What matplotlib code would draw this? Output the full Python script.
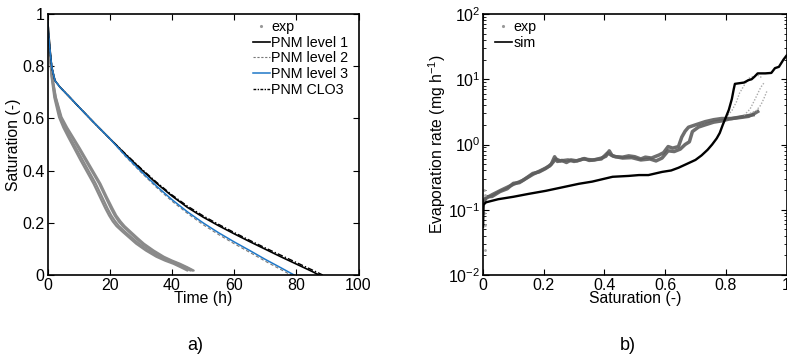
import matplotlib
matplotlib.use("Agg")
import matplotlib.pyplot as plt
from matplotlib.lines import Line2D
from matplotlib.ticker import FixedLocator, FixedFormatter, LogLocator, NullFormatter

plt.rcParams['font.family'] = ['Liberation Sans', 'DejaVu Sans']
plt.rcParams['mathtext.fontset'] = 'custom'
plt.rcParams['mathtext.rm'] = 'Liberation Sans'
plt.rcParams['mathtext.it'] = 'Liberation Sans:italic'

# ---------------- panel a) data: saturation vs time ----------------
exp_s = [0.97, 0.93, 0.84, 0.76, 0.68, 0.605, 0.565, 0.53, 0.485, 0.44, 0.395, 0.35, 0.30,
         0.255, 0.228, 0.205, 0.187, 0.165, 0.142, 0.12, 0.094, 0.07, 0.055, 0.043, 0.03, 0.017]
exp1_t = [0, 0.3, 0.8, 1.3, 2.2, 3.7, 5.1, 6.6, 8.6, 10.6, 12.7, 14.8, 16.8, 18.6, 19.8, 21.0,
          22.2, 24.2, 26.4, 28.5, 31.6, 35.0, 37.8, 40.5, 42.8, 45.0]
exp2_t = [0, 0.3, 0.8, 1.4, 2.4, 4.0, 5.5, 7.1, 9.2, 11.3, 13.4, 15.5, 17.5, 19.3, 20.5, 21.8,
          23.0, 25.0, 27.2, 29.4, 32.5, 36.0, 38.8, 41.4, 43.8, 46.0]
exp3_t = [0, 0.3, 0.9, 1.5, 2.6, 4.3, 6.0, 7.8, 10.0, 12.2, 14.4, 16.6, 18.6, 20.4, 21.6, 22.9,
          24.2, 26.2, 28.3, 30.4, 33.5, 36.8, 39.5, 42.0, 44.4, 46.6]
exp4_t = [0, 0.3, 0.9, 1.5, 2.7, 4.5, 6.3, 8.1, 10.4, 12.6, 14.8, 17.0, 19.0, 20.9, 22.1, 23.5,
          24.8, 26.8, 28.9, 31.0, 34.1, 37.4, 40.1, 42.6, 44.9, 47.0]

early_t = [0, 0.2, 0.5, 0.9, 1.4, 2.4, 4.0, 7.0, 10.0, 15.0, 20.0]
early_s = [0.97, 0.94, 0.9, 0.85, 0.795, 0.745, 0.72, 0.683, 0.645, 0.583, 0.523]

l1_t = early_t + [25, 30, 35, 40, 45, 50, 55, 60, 65, 70, 75, 80, 85, 87.3]
l1_s = early_s + [0.463, 0.406, 0.352, 0.303, 0.259, 0.222, 0.189, 0.158, 0.128, 0.099, 0.07, 0.042, 0.014, 0.0]
l2_t = early_t + [25, 30, 35, 40, 45, 50, 55, 60, 65, 70, 75, 78.3]
l2_s = early_s + [0.455, 0.394, 0.336, 0.283, 0.236, 0.193, 0.155, 0.12, 0.087, 0.053, 0.021, 0.0]
l3_t = early_t + [25, 30, 35, 40, 45, 50, 55, 60, 65, 70, 75, 79.3]
l3_s = early_s + [0.458, 0.398, 0.341, 0.289, 0.242, 0.2, 0.162, 0.127, 0.094, 0.06, 0.028, 0.0]
clo3_t = early_t + [25, 30, 35, 40, 45, 50, 55, 60, 65, 70, 75, 80, 85, 88.5]
clo3_s = early_s + [0.465, 0.409, 0.356, 0.307, 0.264, 0.227, 0.194, 0.163, 0.133, 0.104, 0.076, 0.048, 0.02, 0.0]

# ---------------- panel b) data: evaporation rate vs saturation ----------------
sim_s = [0.000, 0.002, 0.01, 0.05, 0.10, 0.15, 0.207, 0.26, 0.316, 0.36, 0.427, 0.48, 0.514, 0.545,
         0.59, 0.62, 0.644, 0.67, 0.70, 0.72, 0.74, 0.755, 0.77, 0.78, 0.79, 0.80, 0.81, 0.82, 0.826,
         0.83, 0.845, 0.86, 0.875, 0.885, 0.895, 0.905, 0.93, 0.95, 0.962, 0.975, 0.99, 1.0]
sim_r = [0.055, 0.12, 0.13, 0.145, 0.158, 0.175, 0.195, 0.22, 0.25, 0.27, 0.32, 0.33, 0.34, 0.34,
         0.38, 0.40, 0.44, 0.5, 0.58, 0.68, 0.83, 1.0, 1.24, 1.5, 2.0, 2.6, 3.4, 5.0, 7.0,
         8.5, 8.7, 8.9, 9.7, 10.0, 11.0, 12.3, 12.3, 12.5, 14.8, 15.5, 20.0, 23.0]

expA_s = [0.0, 0.005, 0.012, 0.03, 0.056, 0.08, 0.1, 0.12, 0.14, 0.164, 0.185, 0.207, 0.225, 0.236,
          0.245, 0.26, 0.275, 0.29, 0.31, 0.334, 0.35, 0.367, 0.39, 0.405, 0.416, 0.425, 0.437, 0.46,
          0.48, 0.5, 0.52, 0.535, 0.555, 0.58, 0.595, 0.61, 0.625, 0.644, 0.655, 0.666, 0.677, 0.7,
          0.732, 0.76, 0.786, 0.82, 0.85, 0.875, 0.895, 0.905]
expA_r = [0.12, 0.14, 0.158, 0.16, 0.19, 0.21, 0.254, 0.26, 0.30, 0.36, 0.38, 0.43, 0.50, 0.65,
          0.55, 0.57, 0.53, 0.58, 0.56, 0.61, 0.57, 0.58, 0.62, 0.66, 0.8, 0.68, 0.65, 0.64,
          0.67, 0.65, 0.6, 0.64, 0.62, 0.69, 0.75, 0.93, 0.88, 0.93, 1.3, 1.6, 1.84, 2.0,
          2.24, 2.4, 2.5, 2.5, 2.6, 2.7, 3.0, 3.2]
expB_s = [0.0, 0.01, 0.03, 0.06, 0.1, 0.13, 0.165, 0.2, 0.22, 0.24, 0.255, 0.28, 0.3, 0.33, 0.36,
          0.39, 0.41, 0.43, 0.46, 0.49, 0.52, 0.55, 0.57, 0.59, 0.61, 0.63, 0.65, 0.666, 0.68, 0.69,
          0.71, 0.732, 0.76, 0.786, 0.81, 0.84, 0.87, 0.89]
expB_r = [0.13, 0.15, 0.17, 0.2, 0.245, 0.28, 0.35, 0.42, 0.47, 0.6, 0.56, 0.58, 0.55, 0.6, 0.58,
          0.6, 0.74, 0.66, 0.62, 0.63, 0.58, 0.6, 0.56, 0.62, 0.8, 0.78, 0.85, 1.0, 1.1, 1.58,
          1.85, 2.0, 2.2, 2.3, 2.45, 2.6, 2.75, 2.85]
tail1_s = [0.80, 0.82, 0.835, 0.845, 0.86, 0.875, 0.89, 0.905, 0.92]
tail1_r = [2.6, 3.3, 4.5, 6.1, 8.0, 10.3, 11.0, 11.5, 10.5]
tail2_s = [0.86, 0.88, 0.895, 0.905, 0.915, 0.925]
tail2_r = [2.8, 3.5, 4.8, 6.0, 7.5, 8.7]
tail3_s = [0.88, 0.9, 0.915, 0.925, 0.935]
tail3_r = [3.0, 3.3, 4.0, 5.0, 6.5]
dots_s = [0.003, 0.005, 0.006, 0.004, 0.008]
dots_r = [0.2, 0.058, 0.024, 0.09, 0.17]

W, H = 787, 359
fig = plt.figure(figsize=(W / 100, H / 100), dpi=100)

def px_axes(l, r, t, b):
    return fig.add_axes([l / W, (H - b) / H, (r - l) / W, (b - t) / H])

tick_fs = 11.5
lab_fs = 11.3
leg_fs = 10.3

# ---------------- panel a ----------------
ax1 = px_axes(47.5, 358.5, 14, 275)
grey = '#8a8a8a'
for t in (exp1_t, exp2_t, exp3_t, exp4_t):
    ax1.plot(t, exp_s, color=grey, lw=1.6, solid_capstyle='round', solid_joinstyle='round')
ax1.plot(clo3_t, clo3_s, color='black', lw=1.0, ls=(0, (4, 1.5, 1, 1.5)))
ax1.plot(l1_t, l1_s, color='black', lw=1.2)
ax1.plot(l2_t, l2_s, color='#777777', lw=0.8, ls=(0, (3, 2)))
ax1.plot(l3_t, l3_s, color='#1f78c8', lw=1.1)

ax1.set_xlim(0, 100)
ax1.set_ylim(0, 1)
ax1.xaxis.set_major_locator(FixedLocator([0, 20, 40, 60, 80, 100]))
ax1.xaxis.set_major_formatter(FixedFormatter(['0', '20', '40', '60', '80', '100']))
ax1.yaxis.set_major_locator(FixedLocator([0, 0.2, 0.4, 0.6, 0.8, 1.0]))
ax1.yaxis.set_major_formatter(FixedFormatter(['0', '0.2', '0.4', '0.6', '0.8', '1']))
ax1.set_xlabel('Time (h)', fontsize=lab_fs, labelpad=-1)
ax1.set_ylabel('Saturation (-)', fontsize=lab_fs, labelpad=1)

handles1 = [
    Line2D([], [], ls='none', marker='.', ms=2.5, color='#999999'),
    Line2D([], [], color='black', lw=1.2),
    Line2D([], [], color='#777777', lw=0.8, ls=(0, (2, 1.5))),
    Line2D([], [], color='#1f78c8', lw=1.1),
    Line2D([], [], color='black', lw=1.0, ls=(0, (2, 1, 1, 1))),
]
labels1 = ['exp', 'PNM level 1', 'PNM level 2', 'PNM level 3', 'PNM CLO3']
ax1.legend(handles1, labels1, loc='upper right', frameon=False, fontsize=leg_fs,
           handlelength=1.2, handletextpad=0.1, labelspacing=0.12,
           borderaxespad=0.2, bbox_to_anchor=(0.995, 1.01))

# ---------------- panel b ----------------
ax2 = px_axes(483, 786.5, 14, 275)
dk = '#5e5e5e'
ax2.plot(expA_s, expA_r, color=dk, lw=2.5, alpha=0.9)
ax2.plot(expB_s, expB_r, color=dk, lw=2.5, alpha=0.9)
for s, r in [(tail1_s, tail1_r), (tail2_s, tail2_r), (tail3_s, tail3_r)]:
    ax2.plot(s, r, color='#aaaaaa', lw=1.0, ls=(0, (1, 1.2)))
ax2.plot(dots_s, dots_r, ls='none', marker='.', ms=2, color='#aaaaaa')
ax2.plot(sim_s, sim_r, color='black', lw=1.7)

ax2.set_yscale('log')
ax2.set_xlim(0, 1)
ax2.set_ylim(1e-2, 1e2)
ax2.xaxis.set_major_locator(FixedLocator([0, 0.2, 0.4, 0.6, 0.8, 1.0]))
ax2.xaxis.set_major_formatter(FixedFormatter(['0', '0.2', '0.4', '0.6', '0.8', '1']))
ax2.yaxis.set_major_locator(FixedLocator([1e-2, 1e-1, 1e0, 1e1, 1e2]))
ax2.yaxis.set_major_formatter(FixedFormatter(['$10^{-2}$', '$10^{-1}$', '$10^{0}$', '$10^{1}$', '$10^{2}$']))
ax2.yaxis.set_minor_locator(LogLocator(base=10, subs=range(2, 10)))
ax2.yaxis.set_minor_formatter(NullFormatter())
ax2.set_xlabel('Saturation (-)', fontsize=lab_fs, labelpad=-1)
ax2.set_ylabel('Evaporation rate (mg h$^{-1}$)', fontsize=lab_fs, labelpad=0)

handles2 = [Line2D([], [], ls='none', marker='.', ms=2.5, color='#999999'),
            Line2D([], [], color='black', lw=1.2)]
ax2.legend(handles2, ['exp', 'sim'], loc='upper left', frameon=False, fontsize=leg_fs,
           handlelength=1.2, handletextpad=0.1, labelspacing=0.12,
           borderaxespad=0.2, bbox_to_anchor=(0.01, 1.01))

for ax in (ax1, ax2):
    ax.tick_params(which='both', direction='in', top=True, right=True, labelsize=tick_fs, pad=2)
    ax.tick_params(which='major', length=4, width=0.8)
    ax.tick_params(which='minor', length=2, width=0.6)
    for sp in ax.spines.values():
        sp.set_linewidth(1.2)

fig.text(195 / W, 1 - 346 / H, 'a)', fontsize=13, ha='center', va='center')
fig.text(628 / W, 1 - 346 / H, 'b)', fontsize=13, ha='center', va='center')

fig.savefig('out.png', dpi=100)
